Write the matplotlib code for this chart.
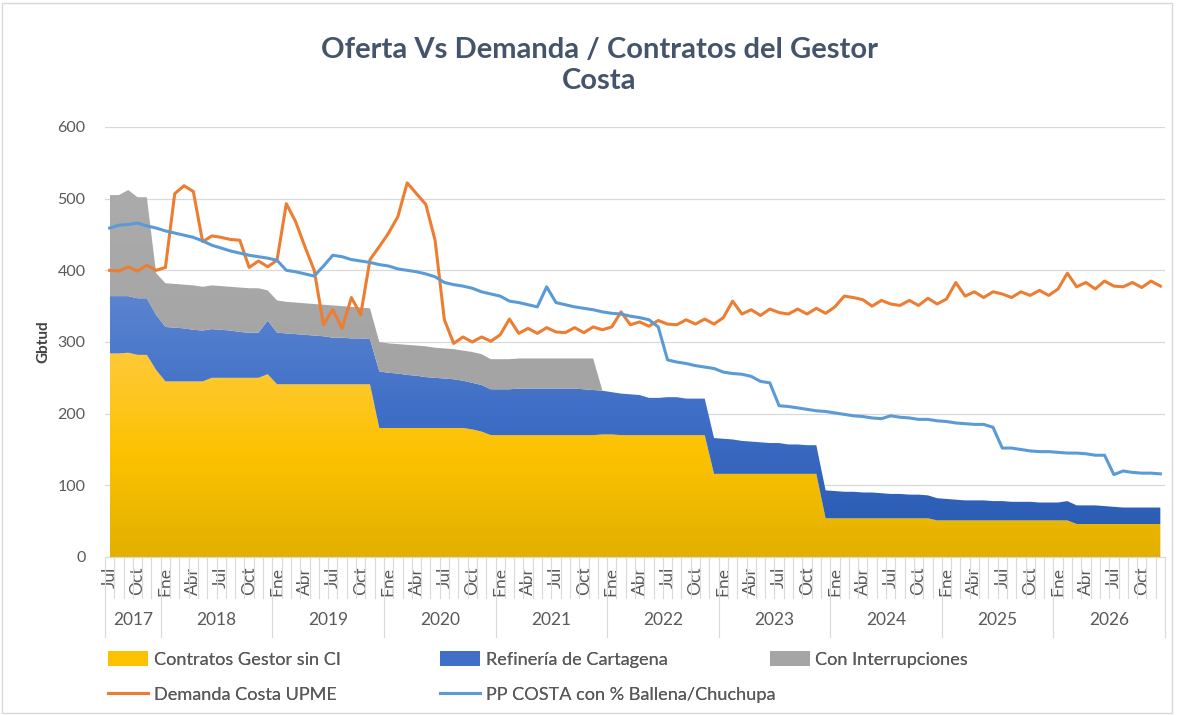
import numpy as np
import matplotlib
matplotlib.use("Agg")
import matplotlib.pyplot as plt
from matplotlib.colors import LinearSegmentedColormap
from matplotlib.patches import Patch, Rectangle
from matplotlib.lines import Line2D
import matplotlib.transforms as mtransforms

plt.rcParams['font.family'] = ['Lato', 'DejaVu Sans']

# monthly data, Jul 2017 .. Dec 2026 (114 months)
start_year, start_month = 2017, 7
n_months = 114

# Contratos Gestor sin CI (Gbtud)
gestor = ([284, 284, 285, 282, 282, 261]
          + [245] * 5 + [250] * 6 + [255]
          + [241] * 11
          + [180] * 10 + [178, 175]
          + [170] * 12 + [171, 171]
          + [170] * 10
          + [116] * 12
          + [54] * 12
          + [51] * 15
          + [46] * 10)

# Refinería de Cartagena (Gbtud, stacked on top of gestor)
refineria = ([80, 80, 79, 79, 79, 77, 76, 75, 74, 72, 71, 68, 67, 66, 64, 63, 63, 75,
              72, 71, 70, 69, 68, 67, 65, 65, 64, 64, 63,
              79, 77, 76, 74, 73, 71, 70, 69, 68, 66, 65, 65,
              64, 64, 64, 65, 65, 65, 65, 65, 65, 65, 64, 63, 61, 59,
              58, 57, 56, 52, 52, 53, 53, 51, 51, 51,
              50, 49, 48, 46, 45, 44, 43, 43, 41, 41, 40, 40,
              39, 38, 37, 37, 36, 36, 35, 34, 34, 33, 33, 32,
              31, 30, 29, 28, 28, 28, 27, 27, 26, 26, 26, 25, 25, 25, 27,
              26, 26, 26, 25, 24, 23, 23, 23, 23, 23])

# Con Interrupciones (Gbtud, stacked on top)
interrupciones = ([141, 141, 148, 141, 141, 58, 61, 61, 61, 62, 61, 61, 61, 61, 62, 62, 62, 42,
                   45, 44, 44, 44, 44, 44, 45, 44, 44, 43, 43,
                   41, 41, 41, 42, 42, 43, 42, 42, 42, 42, 43, 43,
                   42, 42, 42, 42, 42, 42, 42, 42, 42, 42, 43, 44]
                  + [0] * 61)

# Demanda Costa UPME
demanda = [400, 399, 405, 399, 407, 400, 404, 507, 518, 510, 440, 448, 446, 443, 442, 404,
           413, 405, 414, 493, 468, 433, 400, 324, 345, 319, 362, 338, 415, 433, 452, 475,
           522, 507, 492, 442, 331, 298, 307, 300, 307, 301, 310, 332, 312, 319, 312, 320,
           314, 313, 320, 313, 321, 317, 321, 342, 324, 328, 322, 330, 325, 324, 331, 325,
           332, 325, 334, 357, 339, 345, 337, 346, 341, 339, 346, 339, 347, 340, 349, 364,
           362, 359, 350, 358, 353, 351, 358, 351, 361, 353, 360, 383, 364, 370, 362, 370,
           367, 362, 370, 365, 372, 365, 374, 396, 377, 383, 374, 385, 378, 377, 383, 376,
           385, 378]

# PP COSTA con % Ballena/Chuchupa
pp_costa = [459, 463, 464, 466, 462, 459, 455, 452, 449, 446, 441, 435, 431, 427, 424, 421,
            419, 417, 414, 400, 398, 395, 392, 406, 421, 419, 415, 413, 411, 408, 406, 402,
            400, 398, 395, 391, 383, 380, 378, 375, 370, 367, 364, 357, 355, 352, 349, 377,
            355, 352, 349, 347, 345, 342, 340, 339, 336, 334, 331, 321, 275, 272, 270, 267,
            265, 263, 258, 256, 255, 252, 245, 243, 211, 210, 208, 206, 204, 203, 201, 199,
            197, 196, 194, 193, 197, 195, 194, 192, 192, 190, 189, 187, 186, 185, 185, 181,
            152, 152, 150, 148, 147, 147, 146, 145, 145, 144, 142, 142, 115, 120, 118, 117,
            117, 116]

month_names = {1: 'Ene', 4: 'Abr', 7: 'Jul', 10: 'Oct'}

x = np.arange(n_months)
g = np.array(gestor, float)
r = np.array(refineria, float)
c = np.array(interrupciones, float)
months = [(start_month - 1 + i) % 12 + 1 for i in range(n_months)]
years = [start_year + (start_month - 1 + i) // 12 for i in range(n_months)]

fig = plt.figure(figsize=(11.77, 7.15), dpi=100)
ax = fig.add_axes([0.0892, 0.2210, 0.9006, 0.6014])


def gradient_area(lower, upper, colors, z):
    poly = ax.fill_between(x, lower, upper, facecolor='none', lw=0)
    path = poly.get_paths()[0]
    cmap = LinearSegmentedColormap.from_list('grad', colors)
    grad = np.linspace(0, 1, 256).reshape(-1, 1)
    im = ax.imshow(grad, aspect='auto', cmap=cmap, origin='lower',
                   extent=[x[0], x[-1], lower.min(), upper.max()], zorder=z,
                   interpolation='bilinear')
    im.set_clip_path(path, transform=ax.transData)


gradient_area(np.zeros(n_months), g, ['#E2B000', '#FCC200', '#FFC938'], 2)
gradient_area(g, g + r, ['#2C5DB5', '#3F6FC6', '#5B84D0'], 2)
gradient_area(g + r, g + r + c, ['#A3A3A3', '#A5A5A5', '#ABABAB'], 2)

ax.plot(x, demanda, color='#ED7D31', lw=2.2, zorder=4, solid_joinstyle='round')
ax.plot(x, pp_costa, color='#5B9BD5', lw=2.2, zorder=4, solid_joinstyle='round')

ax.set_xlim(-0.5, n_months - 0.5)
ax.set_ylim(0, 600)
ax.set_yticks(range(0, 601, 100))
ax.yaxis.grid(True, color='#D9D9D9', lw=0.9)
ax.set_axisbelow(True)
for s in ['top', 'right', 'left']:
    ax.spines[s].set_visible(False)
ax.spines['bottom'].set_color('#D9D9D9')
ax.tick_params(axis='y', length=0, pad=14, labelsize=11.5, labelcolor='#595959')

# month labels
tick_pos = [i for i in range(n_months) if months[i] in month_names]
ax.set_xticks(tick_pos)
ax.set_xticklabels([month_names[months[i]] for i in tick_pos], rotation=90)
ax.tick_params(axis='x', length=0, pad=7, labelsize=12.5, labelcolor='#595959')

# category separators and year labels
trans = mtransforms.blended_transform_factory(ax.transData, ax.transAxes)
for k in range(n_months + 1):
    xb = k - 0.5
    new_year = k == 0 or k == n_months or months[k] == 1
    ax.plot([xb, xb], [0, -0.186 if new_year else -0.095], transform=trans,
            color='#D9D9D9', lw=0.8, clip_on=False)
for yv in sorted(set(years)):
    idx = [i for i in range(n_months) if years[i] == yv]
    ax.text((idx[0] + idx[-1]) / 2, -0.147, str(yv), transform=trans,
            ha='center', va='center', fontsize=12.5, color='#595959')

ax.set_ylabel('Gbtud', fontsize=11, fontweight='bold', color='#404040', labelpad=5)

fig.text(0.509, 0.908, 'Oferta Vs Demanda / Contratos del Gestor\nCosta',
         ha='center', va='center', fontsize=21, fontweight='bold', color='#44546A',
         linespacing=1.22)

# legend
leg_kw = dict(loc='upper left', frameon=False, fontsize=13.1, labelcolor='#595959',
              handlelength=2.2, handleheight=0.85, handletextpad=0.3,
              borderpad=0, borderaxespad=0, labelspacing=1.0)
h1 = [Patch(facecolor='#FCC200', label='Contratos Gestor sin CI'),
      Line2D([], [], color='#ED7D31', lw=2.2, label='Demanda Costa UPME')]
h2 = [Patch(facecolor='#3F6FC6', label='Refinería de Cartagena'),
      Line2D([], [], color='#5B9BD5', lw=2.2, label='PP COSTA con % Ballena/Chuchupa')]
h3 = [Patch(facecolor='#A5A5A5', label='Con Interrupciones')]
for hs, xl in [(h1, 0.0918), (h2, 0.374), (h3, 0.654)]:
    fig.add_artist(fig.legend(handles=hs, bbox_to_anchor=(xl, 0.089), **leg_kw))

fig.add_artist(Rectangle((0.002, 0.003), 0.994, 0.993, transform=fig.transFigure,
                         fill=False, edgecolor='#D9D9D9', lw=1))

fig.savefig('out.png', dpi=100)
